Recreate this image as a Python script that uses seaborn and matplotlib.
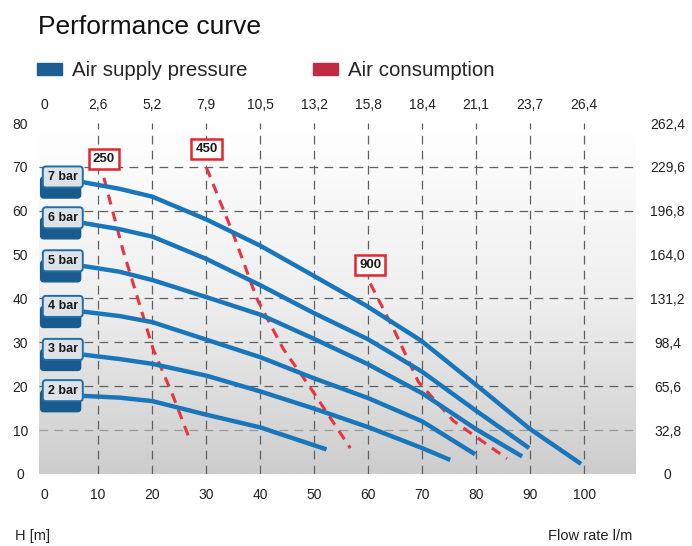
import numpy as np
import pandas as pd
import seaborn as sns
import matplotlib.pyplot as plt
from matplotlib.patches import FancyBboxPatch, Patch
from matplotlib.colors import LinearSegmentedColormap

# axis ticks: flow rate l/min on the bottom, air consumption on top,
# head in m on the left and in ft on the right
flow_ticks = [0, 10, 20, 30, 40, 50, 60, 70, 80, 90, 100]
air_labels = ["0", "2,6", "5,2", "7,9", "10,5", "13,2", "15,8", "18,4", "21,1", "23,7", "26,4"]
head_ticks = [0, 10, 20, 30, 40, 50, 60, 70, 80]
feet_labels = ["0", "32,8", "65,6", "98,4", "131,2", "164,0", "196,8", "229,6", "262,4"]
grid_rows = [10, 20, 30, 40, 60, 70]

# pump curves, one per air supply pressure
bar2_x = [7.3, 14, 20.1, 30.1, 40.1, 52.3]
bar2_y = [17.8, 17.4, 16.6, 13.5, 10.6, 5.6]
bar3_x = [7.3, 14, 20.1, 30.1, 40.1, 50, 60.2, 70, 75.2]
bar3_y = [27.2, 26.2, 25.1, 22.4, 18.8, 14.9, 10.6, 5.9, 3.2]
bar4_x = [7.3, 14, 20.1, 30.1, 40.1, 50, 60, 70, 79.8]
bar4_y = [37.0, 36.0, 34.6, 30.6, 26.6, 21.8, 17.3, 12.0, 4.5]
bar5_x = [7.3, 14, 20.1, 30.1, 40.1, 50, 60, 70, 80, 88.5]
bar5_y = [47.4, 46.1, 44.2, 40.3, 36.3, 30.8, 25.0, 18.4, 10.2, 4.0]
bar6_x = [7.3, 14, 20.1, 30.1, 40.1, 49.6, 60, 70, 80, 89.8]
bar6_y = [57.2, 55.8, 54.1, 49.0, 43.0, 36.9, 30.7, 23.3, 14.4, 5.9]
bar7_x = [7.3, 14, 20.1, 30.1, 40.1, 49.6, 59.6, 69.8, 79.8, 89.8, 99.4]
bar7_y = [66.5, 65.0, 63.2, 58.0, 52.0, 45.4, 38.4, 30.4, 20.5, 10.4, 2.3]

# air consumption iso-lines
air250_x = [11.1, 14.7, 17.2, 20.2, 23.9, 27.0]
air250_y = [67.5, 50.7, 40.7, 28.5, 17.8, 7.8]
air450_x = [30.1, 35.1, 39.4, 44.3, 49.3, 56.7]
air450_y = [69.8, 54.5, 40.0, 28.5, 19.7, 5.9]
air900_x = [60.4, 64.7, 69.3, 75.8, 85.7]
air900_y = [43.4, 33.1, 21.0, 12.1, 3.5]

pressures = ["2 bar", "3 bar", "4 bar", "5 bar", "6 bar", "7 bar"]
curves_x = [bar2_x, bar3_x, bar4_x, bar5_x, bar6_x, bar7_x]
curves_y = [bar2_y, bar3_y, bar4_y, bar5_y, bar6_y, bar7_y]
consumptions = ["250", "450", "900"]
air_x = [air250_x, air450_x, air900_x]
air_y = [air250_y, air450_y, air900_y]

pump_df = pd.concat([pd.DataFrame({"flow": x, "head": y, "pressure": p})
                     for p, x, y in zip(pressures, curves_x, curves_y)])
air_df = pd.concat([pd.DataFrame({"flow": x, "head": y, "consumption": c})
                    for c, x, y in zip(consumptions, air_x, air_y)])

blue = "#1a76bb"
red = "#e8343c"

sns.set_theme(style="white")
plt.rcParams["font.family"] = ["Liberation Sans", "DejaVu Sans"]

fig = plt.figure(figsize=(6.92, 5.46), dpi=100)
ax = fig.add_axes([0.0564, 0.1319, 0.8613, 0.6428])
xlim = (-0.9, 109.4)
ylim = (0, 80)

# grey gradient background
grad = LinearSegmentedColormap.from_list("bg", ["#ffffff", "#efefef", "#cdcdcd"])
ax.imshow(np.linspace(0, 1, 256).reshape(-1, 1), cmap=grad, aspect="auto",
          extent=[xlim[0], xlim[1], ylim[0], ylim[1]], zorder=0)

for v in flow_ticks[1:]:
    ax.axvline(v, color="#606060", lw=0.9, ls=(0, (7, 5)), zorder=1)
for v in grid_rows:
    col = "#9a9a9a" if v == 10 else "#606060"
    ax.axhline(v, color=col, lw=0.9, ls=(0, (7, 5)), zorder=1)

sns.lineplot(data=air_df, x="flow", y="head", hue="consumption",
             palette={c: red for c in consumptions}, sort=False, estimator=None,
             legend=False, lw=2.2, linestyle=(0, (3.3, 2.4)), ax=ax, zorder=3)
sns.lineplot(data=pump_df, x="flow", y="head", hue="pressure",
             palette={p: blue for p in pressures}, sort=False, estimator=None,
             legend=False, lw=3.2, solid_capstyle="butt", ax=ax, zorder=4)

# pressure badges at the start of each curve
for p, x, y in zip(pressures, curves_x, curves_y):
    x0, y0 = x[0], y[0]
    w, h = 7.4, 4.8
    shadow = FancyBboxPatch((x0 - w - 0.5, y0 - 1.2 - 2.4), w, h,
                            boxstyle="round,pad=0,rounding_size=0.6", mutation_aspect=1.24,
                            fc="#195b8e", ec="#195b8e", lw=1, zorder=5)
    face = FancyBboxPatch((x0 - w - 0.1, y0 - 1.2), w, h,
                          boxstyle="round,pad=0,rounding_size=0.6", mutation_aspect=1.24,
                          fc="#dde2e8", ec="#1f6ea8", lw=1.4, zorder=6)
    ax.add_patch(shadow)
    ax.add_patch(face)
    ax.text(x0 - 0.1 - w / 2, y0 - 1.2 + h / 2, p, ha="center", va="center",
            fontsize=9, fontweight="bold", color="#1a1a1a", zorder=7)

# air consumption tags above each iso-line
for c, x, y in zip(consumptions, air_x, air_y):
    ax.text(x[0], y[0] + 4.2, c, ha="center", va="center", fontsize=9.5,
            fontweight="bold", color="#1a1a1a", zorder=7,
            bbox=dict(boxstyle="square,pad=0.3", fc="white", ec="#e3262d", lw=1.8))

ax.set_xlim(xlim)
ax.set_ylim(ylim)
ax.set_xticks(flow_ticks)
ax.set_yticks(head_ticks)
ax.set_xlabel("")
ax.set_ylabel("")
ax.tick_params(axis="x", length=0, pad=10, labelsize=10, labelcolor="#222222")
ax.tick_params(axis="y", length=0, pad=13.5, labelsize=10, labelcolor="#222222")
for lbl in ax.get_yticklabels():
    lbl.set_horizontalalignment("center")

axt = ax.twiny()
axt.set_xlim(xlim)
axt.set_xticks(flow_ticks)
axt.set_xticklabels(air_labels)
axt.tick_params(axis="x", length=0, pad=8, labelsize=10, labelcolor="#222222")

axr = ax.twinx()
axr.set_ylim(ylim)
axr.set_yticks(head_ticks)
axr.set_yticklabels(feet_labels)
axr.tick_params(axis="y", length=0, pad=23.5, labelsize=10, labelcolor="#222222")
for lbl in axr.get_yticklabels():
    lbl.set_horizontalalignment("center")

for a in (ax, axt, axr):
    for s in a.spines.values():
        s.set_visible(False)
    a.grid(False)

fig.text(38 / 692, 1 - 27 / 546, "Performance curve", fontsize=19, va="center", color="#111111")
fig.legend(handles=[Patch(color="#1b5f92", label="Air supply pressure"),
                    Patch(color="#c12a40", label="Air consumption")],
           loc="center left", bbox_to_anchor=(37 / 692, 1 - 71 / 546), ncol=2,
           frameon=False, fontsize=14.8, handlelength=1.2, handleheight=0.5,
           handletextpad=0.5, columnspacing=3.2, borderaxespad=0, borderpad=0)

fig.text(15 / 692, 1 - 536 / 546, "H [m]", fontsize=10.5, va="center", color="#222222")
fig.text(632 / 692, 1 - 536 / 546, "Flow rate l/m", fontsize=10.5, va="center",
         ha="right", color="#222222")

fig.savefig("out.png", dpi=100, facecolor="white")
